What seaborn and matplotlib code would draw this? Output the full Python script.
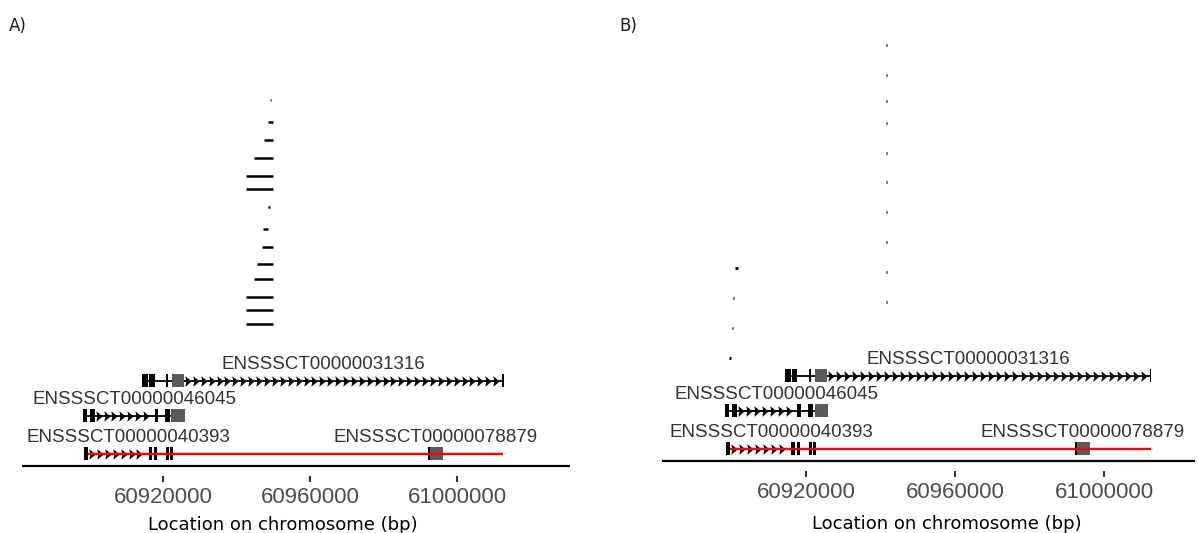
import numpy as np
import pandas as pd
import matplotlib
matplotlib.use("Agg")
import matplotlib.pyplot as plt
from matplotlib.path import Path
from matplotlib.markers import MarkerStyle
from matplotlib.patches import Rectangle
import seaborn as sns

# ------------------------------------------------------------------ data
gene_names = ["ENSSSCT00000031316", "ENSSSCT00000046045",
              "ENSSSCT00000040393", "ENSSSCT00000078879"]
gene_start = [60914500, 60898300, 60898600, 60992100]
gene_end = [61012600, 60925990, 60922700, 60996200]
gene_track = [3, 2, 1, 1]

exon_gene = [0, 0, 0, 0, 1, 1, 1, 1, 2, 2, 2, 2, 2, 3]
exon_start = [60914400, 60916300, 60920800, 61012300,
              60898200, 60900100, 60917700, 60920500,
              60898500, 60916100, 60917500, 60920700, 60921800,
              60992100]
exon_end = [60915900, 60917700, 60921400, 61012700,
            60899400, 60901400, 60918600, 60921900,
            60899600, 60917100, 60918400, 60921600, 60922800,
            60992700]

utr_gene = [0, 1, 3]
utr_start = [60922400, 60922300, 60992100]
utr_end = [60925700, 60926000, 60996200]

highlight_start = [60899600]
highlight_end = [61012500]
highlight_track = [1]

# panel A: credible-set intervals
segA_score = [18.3, 17.2, 16.3, 15.4, 14.5, 13.85, 12.95, 11.85,
              10.97, 10.08, 9.37, 8.47, 7.8, 7.1]
segA_start = [60949120, 60948490, 60947560, 60944760, 60942580, 60942580,
              60948570, 60947290, 60946940, 60945500, 60944760, 60942580,
              60942580, 60942580]
segA_end = [60949470, 60949930, 60949930, 60949930, 60949930, 60949930,
            60949030, 60948570, 60949930, 60949930, 60949930, 60949930,
            60949930, 60949930]

# panel B: credible-set intervals (single variants)
segB_score = [20.8, 19.3, 18.0, 16.9, 15.4, 13.93, 12.43, 10.95, 9.45, 7.95,
              9.67, 8.17, 6.67, 5.17]
segB_start = [60941350] * 10 + [60901050, 60900480, 60900220, 60899300]
segB_end = [60941800] * 10 + [60901650, 60900620, 60900360, 60899850]

tick_values = [60920000, 60960000, 61000000]
xlabel_text = "Location on chromosome (bp)"
panel_labels = ["A)", "B)"]

# ------------------------------------------------------------------ style
sns.set_theme(style="white")
plt.rcParams['font.family'] = ['Liberation Sans', 'DejaVu Sans']

W, H = 1198, 533
fig = plt.figure(figsize=(W / 100, H / 100), dpi=100)


def px_axes(left, right, top, bottom):
    return fig.add_axes([left / W, (H - bottom) / H,
                         (right - left) / W, (bottom - top) / H])


TRACK_Y = {3: 4.27, 2: 2.52, 1: 0.62}
EXON_H = 0.64
BOX_H = 0.66

chev_path = Path([(-0.6, 1.0), (0.6, 0.0), (-0.6, -1.0), (-0.4, 0.0), (-0.6, 1.0)],
                 [Path.MOVETO, Path.LINETO, Path.LINETO, Path.LINETO, Path.CLOSEPOLY])
chev_marker = MarkerStyle(chev_path)

genes = pd.DataFrame({"name": gene_names, "start": gene_start,
                      "end": gene_end, "track": gene_track})
exons = pd.DataFrame({"gene": exon_gene, "start": exon_start, "end": exon_end, "kind": "exon"})
utrs = pd.DataFrame({"gene": utr_gene, "start": utr_start, "end": utr_end, "kind": "utr"})
features = pd.concat([exons, utrs], ignore_index=True)


def draw_panel(ax, seg_start, seg_end, seg_score, xlim, seg_lw):
    ax.set_xlim(*xlim)
    ax.set_ylim(-0.5, 22.3)
    # credible set intervals
    ax.hlines(seg_score, seg_start, seg_end, colors="black", lw=seg_lw)
    # baseline
    ax.axhline(0, color="black", lw=1.6, zorder=1)
    # genes
    for gi, g in genes.iterrows():
        y = TRACK_Y[g.track]
        ax.plot([g.start, g.end], [y, y], color="black", lw=1.3, zorder=2,
                solid_capstyle="butt")
        feats = features[features.gene == gi].sort_values("start")
        bounds = list(zip(feats.end.values[:-1], feats.start.values[1:]))
        chev_x = []
        for a, b in bounds:
            if b - a > 4000:
                chev_x.extend(np.arange(a + 1100, b - 500, 2150))
        if chev_x:
            sns.scatterplot(x=chev_x, y=[y] * len(chev_x), marker=chev_marker,
                            s=58, color="black", linewidth=0, ax=ax,
                            zorder=3, legend=False)
        for _, f in feats.iterrows():
            if f.kind == "utr":
                h, col, z = BOX_H, "#5a5a5a", 3
            else:
                h, col, z = EXON_H, "black", 4
            ax.add_patch(Rectangle((f.start, y - h / 2), f.end - f.start, h,
                                   facecolor=col, edgecolor="none", zorder=z))
        ax.text((g.start + g.end) / 2, y + 0.8, g["name"], ha="center",
                va="center", fontsize=13.5, color="#333333", zorder=6)
    for hs, he, ht in zip(highlight_start, highlight_end, highlight_track):
        y = TRACK_Y[ht]
        ax.plot([hs, he], [y, y], color="#ff0000", lw=1.7, zorder=5,
                solid_capstyle="butt")
    ax.set_yticks([])
    ax.set_xticks(tick_values)
    ax.set_xticklabels([str(v) for v in tick_values])
    ax.tick_params(axis="x", bottom=True, length=4.3, width=1.5,
                   color="#333333", pad=3.5, labelsize=16,
                   labelcolor="#4D4D4D")
    for s in ax.spines.values():
        s.set_visible(False)
    ax.grid(False)


axA = px_axes(22, 570, 20, 476)
draw_panel(axA, segA_start, segA_end, segA_score,
           (60881634, 61030745), seg_lw=1.8)

axB = px_axes(662, 1195, 15, 471)
draw_panel(axB, segB_start, segB_end, segB_score,
           (60881336, 61024447), seg_lw=2.1)

for xpx, lab in zip([9, 619], panel_labels):
    fig.text(xpx / W, (H - 31) / H, lab, fontsize=12, family="DejaVu Sans",
             ha="left", va="baseline", color="#1a1a1a")
for xpx, ybase in zip([283, 947], [530, 529]):
    fig.text(xpx / W, (H - ybase) / H, xlabel_text, fontsize=13,
             family="DejaVu Sans", ha="center", va="baseline", color="black")

fig.savefig("out.png", dpi=100)
